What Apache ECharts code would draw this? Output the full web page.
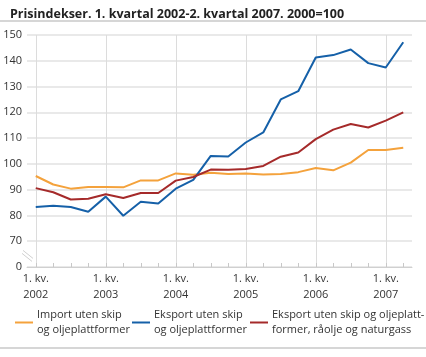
<!DOCTYPE html>
<html><head><meta charset="utf-8">
<script src="https://cdn.jsdelivr.net/npm/echarts@6/dist/echarts.min.js"></script>
<style>html,body{margin:0;padding:0;background:#fff}#c{width:426px;height:357px}</style>
</head><body><div id="c"></div>
<script>
const titleText = 'Prisindekser. 1. kvartal 2002-2. kvartal 2007. 2000=100';
const quarters = ['2002K1','2002K2','2002K3','2002K4','2003K1','2003K2','2003K3','2003K4','2004K1','2004K2','2004K3','2004K4','2005K1','2005K2','2005K3','2005K4','2006K1','2006K2','2006K3','2006K4','2007K1','2007K2'];
const xTickLabels = {'2002K1':'1. kv.\n2002','2003K1':'1. kv.\n2003','2004K1':'1. kv.\n2004','2005K1':'1. kv.\n2005','2006K1':'1. kv.\n2006','2007K1':'1. kv.\n2007'};
const yTickLabels = {60:'0',70:'70',80:'80',90:'90',100:'100',110:'110',120:'120',130:'130',140:'140',150:'150'};
const seriesNames = ['Import uten skip\nog oljeplattformer','Eksport uten skip\nog oljeplattformer','Eksport uten skip og oljeplatt-\nformer, råolje og naturgass'];
const importVals = [95.3, 92.0, 90.4, 91.0, 91.0, 90.9, 93.6, 93.6, 96.3, 95.8, 96.6, 96.1, 96.3, 95.9, 96.1, 96.8, 98.4, 97.5, 100.5, 105.4, 105.4, 106.3];
const exportVals = [83.3, 83.8, 83.3, 81.4, 87.3, 79.9, 85.3, 84.6, 90.4, 93.8, 103.1, 102.9, 108.3, 112.2, 125.0, 128.2, 141.3, 142.2, 144.4, 139.1, 137.4, 147.2];
const exportExclVals = [90.6, 89.0, 86.2, 86.5, 88.2, 86.8, 88.7, 88.7, 93.5, 94.9, 97.8, 97.7, 98.0, 99.2, 102.8, 104.4, 109.6, 113.3, 115.5, 114.1, 116.8, 120.0];
const colors = ['#f4a23c','#1560a8','#a52a2a'];

const FONT = '"Open Sans", sans-serif';
const chart = echarts.init(document.getElementById('c'), null, {renderer:'canvas'});
function mkLegend(i, left){
  return {
    data:[seriesNames[i]], left:left, top:295, orient:'horizontal',
    icon:'rect', itemWidth:18, itemHeight:2, itemGap:0,
    textStyle:{fontFamily:FONT, fontSize:11, color:'#333', lineHeight:15, padding:[15,0,0,-1]}
  };
}
const vals = [importVals, exportVals, exportExclVals];
chart.setOption({
  animation:false,
  textStyle:{fontFamily:FONT},
  title:{text:titleText, left:5, top:3, textStyle:{fontFamily:FONT, fontSize:12.5, fontWeight:'bold', color:'#222'}},
  grid:{left:27, right:14, top:35, bottom:90, containLabel:false},
  legend:[mkLegend(0,10), mkLegend(1,127), mkLegend(2,245)],
  xAxis:{
    type:'category', data:quarters, boundaryGap:true,
    axisLine:{show:true, lineStyle:{color:'#d0d0d0', width:1}},
    axisTick:{show:true, alignWithLabel:true, inside:true, length:4, interval:0, lineStyle:{color:'#c8c8c8'}},
    axisLabel:{interval:0, formatter:v=>xTickLabels[v]||'', color:'#333', fontSize:11, lineHeight:16, margin:4, fontFamily:FONT},
    splitLine:{show:true, alignWithLabel:true, interval:(i)=>i%4===0, lineStyle:{color:'#dcdcdc', width:1}}
  },
  yAxis:{
    type:'value', min:60, max:150, interval:10,
    axisLine:{show:false}, axisTick:{show:false},
    axisLabel:{formatter:v=>yTickLabels[v]!==undefined?yTickLabels[v]:'', color:'#333', fontSize:11, margin:5, fontFamily:FONT},
    splitLine:{show:true, lineStyle:{color:'#e2e2e2', width:1.5}}
  },
  series: seriesNames.map((n,i)=>({
    name:n, type:'line', data:vals[i], symbol:'none', smooth:false,
    lineStyle:{color:colors[i], width:2}, itemStyle:{color:colors[i]}
  }))
});
// axis break marks on the y axis
const yb = chart.convertToPixel({yAxisIndex:0}, 64.5);
const x0 = 27;
chart.setOption({graphic:[
  {type:'line', shape:{x1:0,y1:21,x2:426,y2:21}, style:{stroke:'#c8c8c8', lineWidth:1.5}},
  {type:'line', shape:{x1:0,y1:348,x2:426,y2:348}, style:{stroke:'#c8c8c8', lineWidth:1.5}},
  {type:'line', shape:{x1:x0-5,y1:yb-2,x2:x0+5,y2:yb+6}, style:{stroke:'#d0d0d0', lineWidth:1}},
  {type:'line', shape:{x1:x0-4,y1:yb-5,x2:x0+6,y2:yb+3}, style:{stroke:'#d0d0d0', lineWidth:1}}
]});
</script></body></html>
